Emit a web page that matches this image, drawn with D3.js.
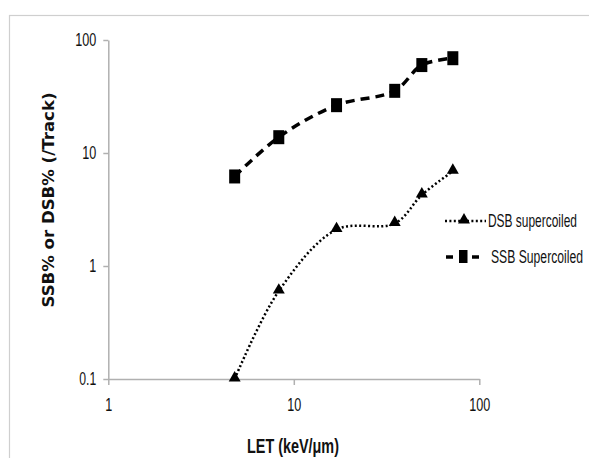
<!DOCTYPE html>
<html><head><meta charset="utf-8">
<script src="https://cdn.jsdelivr.net/npm/d3@7"></script>
<style>
html,body{margin:0;padding:0;background:#fff;}
svg{display:block;}
</style></head>
<body>
<svg id="chart" width="589" height="458"></svg>
<script>
const letValues = [4.8, 8.3, 17, 35, 49, 72];
const ssbValues = [6.2, 13.8, 26.5, 35.5, 60, 69];
const dsbValues = [0.1, 0.6, 2.1, 2.38, 4.25, 6.9];
const xTicks = [1, 10, 100];
const yTicks = [0.1, 1, 10, 100];
const seriesNames = ["DSB supercoiled", "SSB Supercoiled"];

const svg = d3.select("#chart");
const font = "'Liberation Sans',Arial,sans-serif";

// fit tick text to a target width (condensed look)
function fitWidth(sel) {
  sel.each(function () {
    const t = this.textContent;
    const target = t === "0.1" ? 17 : t.length * 7;
    d3.select(this).attr("textLength", target).attr("lengthAdjust", "spacingAndGlyphs");
  });
}

// outer frame
svg.append("rect").attr("x", 9.5).attr("y", 15.5).attr("width", 600).attr("height", 460)
  .attr("fill", "none").attr("stroke", "#cfcfcf").attr("stroke-width", 1.2);

const x = d3.scaleLog().domain([1, 100]).range([108.3, 479.3]);
const y = d3.scaleLog().domain([0.1, 100]).range([379, 40]);

const fmt = d => d < 1 ? "0.1" : String(d);

const gx = svg.append("g").attr("transform", `translate(0,${y(0.1)})`)
  .call(d3.axisBottom(x).tickValues(xTicks).tickFormat(fmt).tickSizeInner(6).tickSizeOuter(0).tickPadding(13));
const gy = svg.append("g").attr("transform", `translate(${x(1)},0)`)
  .call(d3.axisLeft(y).tickValues(yTicks).tickFormat(fmt).tickSizeInner(5).tickSizeOuter(0).tickPadding(7));
[gx, gy].forEach(g => {
  g.select(".domain").attr("stroke", "#b0b0b0").attr("stroke-width", 1.5);
  g.selectAll(".tick line").attr("stroke", "#b0b0b0").attr("stroke-width", 1.5);
  g.selectAll(".tick text").attr("fill", "#111").style("font-family", font).style("font-size", "18px")
    .call(fitWidth);
});

const line = d3.line().x(d => x(d[0])).y(d => y(d[1])).curve(d3.curveCatmullRom.alpha(0.5));
const ssb = letValues.map((v, i) => [v, ssbValues[i]]);
const dsb = letValues.map((v, i) => [v, dsbValues[i]]);

svg.append("path").attr("d", line(dsb)).attr("fill", "none").attr("stroke", "#000")
  .attr("stroke-width", 2.5).attr("stroke-dasharray", "2,2.4");
svg.append("path").attr("d", line(ssb)).attr("fill", "none").attr("stroke", "#000")
  .attr("stroke-width", 3.5).attr("stroke-dasharray", "9,6");

const tri = d3.symbol().type(d3.symbolTriangle).size(62);
svg.selectAll(".tri").data(dsb).join("path").attr("class", "tri")
  .attr("d", tri).attr("transform", d => `translate(${x(d[0])},${y(d[1]) - 1})`).attr("fill", "#000");
svg.selectAll(".sq").data(ssb).join("rect").attr("class", "sq")
  .attr("x", d => x(d[0]) - 5.5).attr("y", d => y(d[1]) - 7).attr("width", 11).attr("height", 14).attr("fill", "#000");

// legend
const lg = svg.append("g");
lg.append("line").attr("x1", 445).attr("x2", 486).attr("y1", 221).attr("y2", 221)
  .attr("stroke", "#000").attr("stroke-width", 2.5).attr("stroke-dasharray", "2,2.4");
lg.append("path").attr("d", tri).attr("transform", "translate(464,220)");
lg.append("line").attr("x1", 446).attr("x2", 453).attr("y1", 257).attr("y2", 257).attr("stroke", "#000").attr("stroke-width", 3.5);
lg.append("line").attr("x1", 472).attr("x2", 479).attr("y1", 257).attr("y2", 257).attr("stroke", "#000").attr("stroke-width", 3.5);
lg.append("rect").attr("x", 459).attr("y", 250).attr("width", 8.5).attr("height", 13);
const legendPos = [[488, 226.5, 89], [491, 263, 92]];
seriesNames.forEach((name, i) => {
  const g = lg.append("g");
  const t = g.append("text").attr("x", 0).attr("y", 0).text(name)
    .style("font-family", font).style("font-size", "18px").attr("fill", "#111");
  const w = t.node().getComputedTextLength();
  g.attr("transform", `translate(${legendPos[i][0]},${legendPos[i][1]}) scale(${legendPos[i][2] / w},1)`);
});

// axis titles
svg.append("g").attr("transform", "translate(247,453) scale(0.72,1)")
  .append("text").attr("x", 0).attr("y", 0)
  .style("font-family", font).style("font-weight", "bold").style("font-size", "20px")
  .attr("fill", "#111").text("LET (keV/μm)");
svg.append("text").attr("transform", "translate(54,200) rotate(-90)").attr("text-anchor", "middle")
  .attr("textLength", 215).attr("lengthAdjust", "spacingAndGlyphs").attr("fill", "#111")
  .style("font-family", "'DejaVu Sans',Verdana,sans-serif").style("font-weight", "bold").style("font-size", "15px")
  .text("SSB% or DSB% (/Track)");
</script>
</body></html>
